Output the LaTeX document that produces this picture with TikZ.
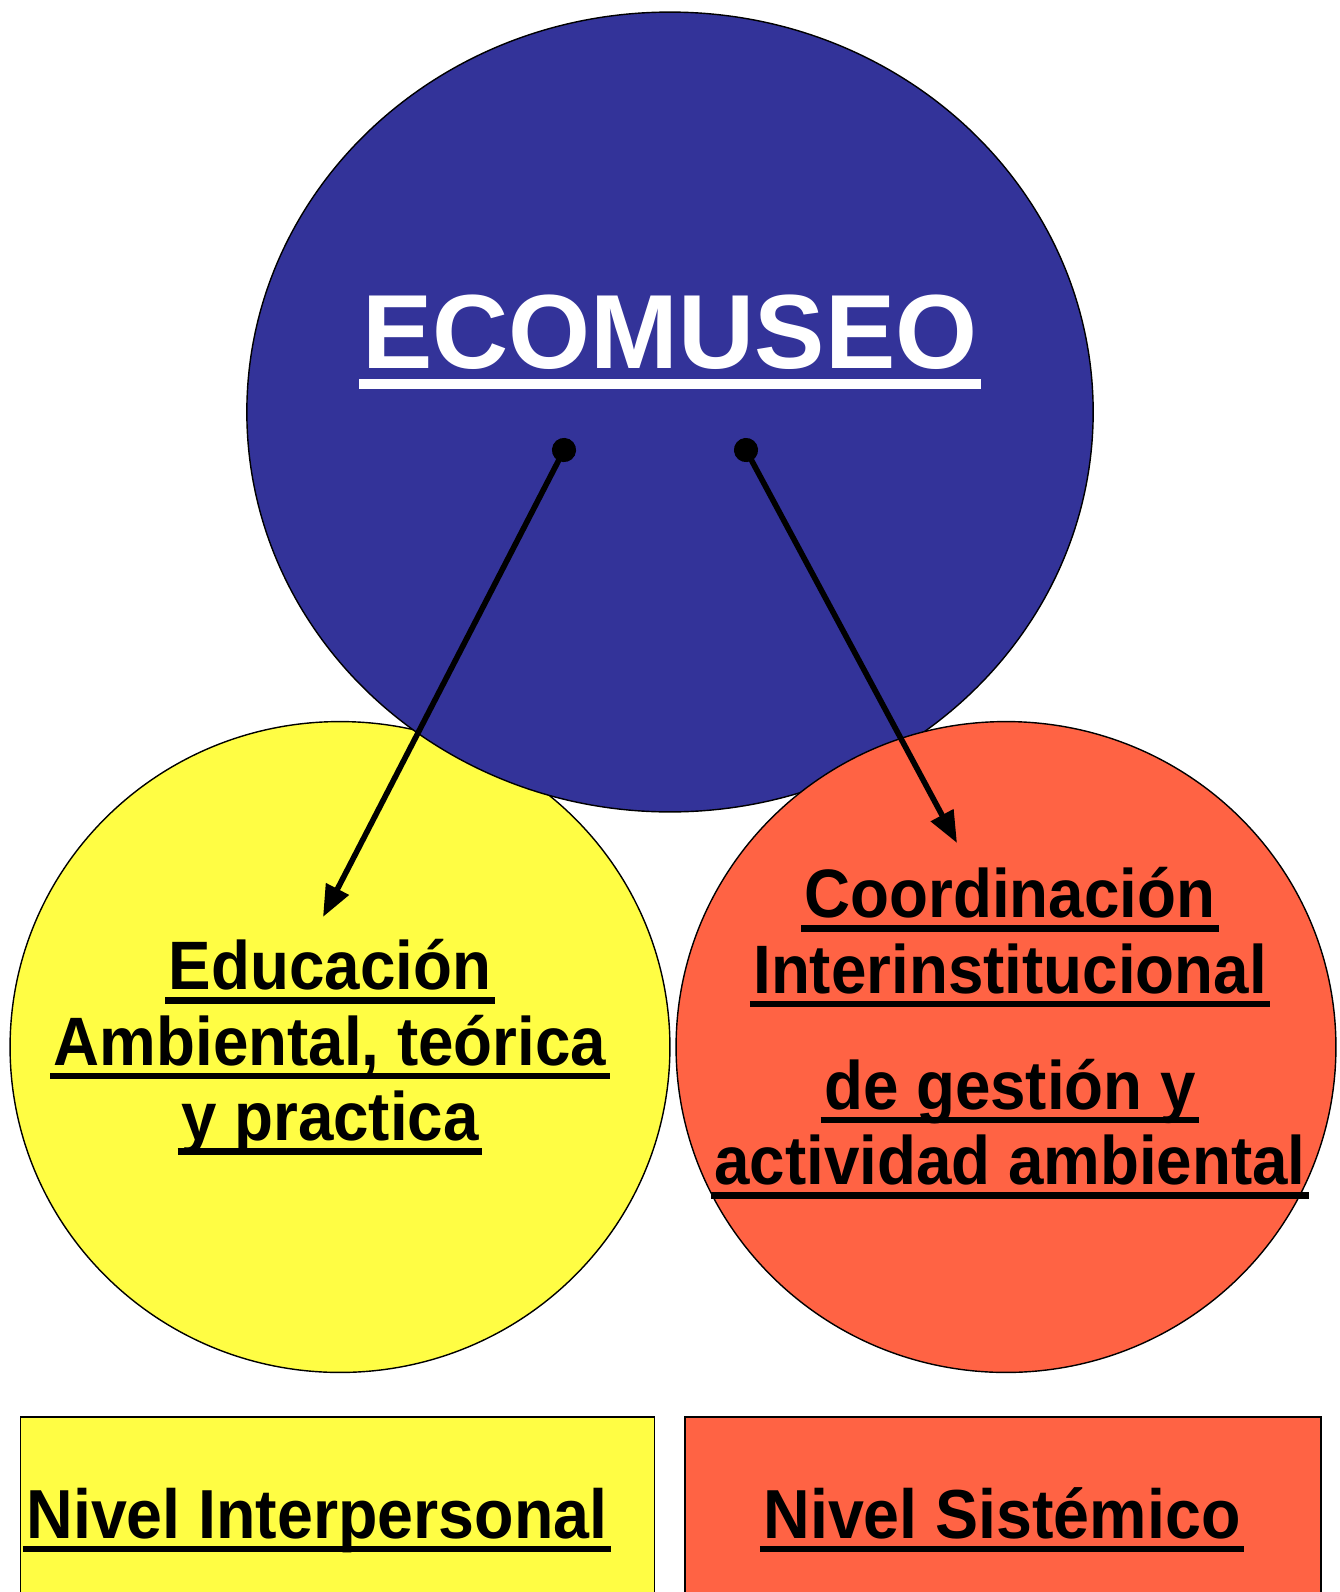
\documentclass[tikz,border=0pt]{standalone}
\usepackage{fontspec}
\newfontfamily\narrowbf{Liberation Sans Bold}[FakeStretch=0.93]
\newfontfamily\widebf{Liberation Sans Bold}
\usetikzlibrary{shapes.geometric, arrows.meta, positioning}

\definecolor{museoblue}{HTML}{333399}
\definecolor{eduyellow}{HTML}{FFFD44}
\definecolor{coordred}{HTML}{FF6344}

\newlength\uldepth \setlength\uldepth{8pt}
\newlength\ulthick \setlength\ulthick{3.6pt}
\newcommand\ulbar[1]{\leavevmode\setbox0\hbox{#1}\rlap{\kern-2pt\rule[-\uldepth]{\dimexpr\wd0+4pt\relax}{\ulthick}}\box0}

\begin{document}
\begin{tikzpicture}[x=0.02cm, y=-0.02cm,
    bubble/.style={ellipse, draw=black, line width=0.8pt, inner sep=0pt},
    levelbox/.style={rectangle, draw=black, line width=0.8pt, minimum height=4cm},
    bubbletext/.style={align=center, font=\narrowbf\fontsize{39}{43}\selectfont},
    leveltext/.style={anchor=base, font=\narrowbf\fontsize{39.5}{43}\selectfont},
    link/.style={line width=3.2pt, {Circle[length=13.7pt]}-{Triangle[length=18pt,width=14pt]}, shorten <=-6.85pt}]

  \useasboundingbox (0,0) rectangle (1339,1592);
  \fill[white] (0,0) rectangle (1339,1592);

  % Circles
  \node[bubble, fill=eduyellow, minimum width=13.2cm, minimum height=13.02cm] (edu) at (340,1047) {};
  \node[bubble, fill=museoblue, minimum width=16.93cm, minimum height=16cm] (eco) at (670,412) {};
  \node[bubble, fill=coordred, minimum width=13.2cm, minimum height=13.02cm] (coord) at (1006,1047) {};

  % Circle texts
  \node[anchor=base, text=white, font=\widebf\fontsize{60}{66}\selectfont]
    (ecolbl) at (670,368) {\setlength\ulthick{5.5pt}\setlength\uldepth{12pt}\ulbar{ECOMUSEO}};
  \node[bubbletext] (edulbl) at (330,1047)
    {\ulbar{Educación}\\ \ulbar{Ambiental, teórica}\\ \ulbar{y practica}};
  \node[bubbletext] (coordlbl) at (1010,1033)
    {\ulbar{Coordinación}\\ \ulbar{Interinstitucional}\\[23pt] \ulbar{de gestión y}\\ \ulbar{actividad ambiental}};

  % Level boxes
  \node[levelbox, fill=eduyellow, minimum width=12.69cm] (boxI) at (337.5,1517) {};
  \node[levelbox, fill=coordred, minimum width=12.72cm] (boxS) at (1003,1517) {};
  \node[leveltext] (lvlI) at (317,1538) {\ulbar{Nivel Interpersonal}};
  \node[leveltext] (lvlS) at (1002,1538) {\ulbar{Nivel Sistémico}};

  % Links
  \coordinate (dotL) at (564,450);
  \coordinate (tipL) at (323,917);
  \coordinate (dotR) at (746,450);
  \coordinate (tipR) at (957,843);
  \draw[link] (dotL) -- (tipL);
  \draw[link] (dotR) -- (tipR);
\end{tikzpicture}
\end{document}
